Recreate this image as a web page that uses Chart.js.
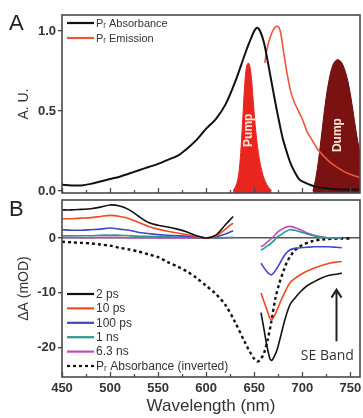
<!DOCTYPE html>
<html>
<head>
<meta charset="utf-8">
<script src="https://cdn.jsdelivr.net/npm/chart.js@4.4.1/dist/chart.umd.min.js"></script>
<style>
  body { margin: 0; background: #fff; width: 363px; height: 418px; overflow: hidden; position: relative; }
  canvas { position: absolute; left: 0; }
  #chartA { top: 0; }
  #chartB { top: 197px; }
</style>
</head>
<body>
<canvas id="chartA" width="363" height="197"></canvas>
<canvas id="chartB" width="363" height="221"></canvas>
<script>
// ---- Panel A data (normalised, A. U.) ----
const absWl  = [450, 460, 470, 480, 490, 500, 510, 520, 530, 540, 550, 560, 570, 580, 590, 600, 610, 620, 630, 640, 645, 650, 653, 656, 660, 664, 668, 672, 676, 680, 684, 688, 692, 696, 700, 710, 720, 740, 760];
const absVal = [0.04, 0.035, 0.035, 0.045, 0.06, 0.075, 0.09, 0.11, 0.13, 0.15, 0.17, 0.195, 0.22, 0.265, 0.32, 0.39, 0.45, 0.54, 0.68, 0.85, 0.93, 1.0, 1.02, 1.0, 0.93, 0.81, 0.68, 0.55, 0.43, 0.32, 0.24, 0.17, 0.12, 0.08, 0.06, 0.035, 0.02, 0.01, 0.01];

const emWl  = [661, 663, 666, 670, 674, 677, 680, 684, 688, 692, 696, 700, 705, 710, 716, 722, 729, 736, 744, 752, 760];
const emVal = [0.80, 0.88, 0.95, 1.01, 1.03, 1.0, 0.89, 0.74, 0.62, 0.55, 0.50, 0.45, 0.37, 0.32, 0.26, 0.22, 0.18, 0.15, 0.12, 0.10, 0.085];

const pumpWl  = [628, 632, 635, 638, 640, 642, 644, 646, 648, 650, 652, 655, 659, 663, 668];
const pumpVal = [0, 0.05, 0.17, 0.45, 0.66, 0.78, 0.80, 0.76, 0.64, 0.48, 0.35, 0.21, 0.10, 0.04, 0];

const dumpWl  = [711, 714, 717, 720, 724, 728, 732, 736, 740, 744, 748, 752, 756, 760, 764];
const dumpVal = [0, 0.08, 0.2, 0.35, 0.55, 0.70, 0.79, 0.82, 0.81, 0.76, 0.67, 0.53, 0.37, 0.24, 0.15];

const auTicks = [0, 0.5, 1.0];

// ---- Panel B data (mOD) ----
const visWl = [450, 460, 470, 480, 490, 500, 510, 520, 530, 540, 550, 560, 570, 580, 590, 600, 610, 620, 628];
const seWl  = [657, 660, 663, 666, 668, 671, 674, 678, 682, 687, 692, 698, 705, 712, 720, 728, 735, 741];

const vis2ps   = [5.1, 5.1, 5.2, 5.3, 5.6, 6.0, 5.8, 5.1, 3.9, 2.8, 2.3, 2.0, 1.6, 1.1, 0.4, 0.0, 0.5, 2.4, 3.9];
const vis10ps  = [3.5, 3.5, 3.6, 3.7, 3.9, 4.1, 3.9, 3.5, 2.8, 2.1, 1.6, 1.2, 0.9, 0.6, 0.2, 0.0, 0.3, 1.6, 2.7];
const vis100ps = [1.5, 1.4, 1.4, 1.5, 1.6, 1.8, 1.6, 1.4, 1.0, 0.8, 0.6, 0.5, 0.4, 0.3, 0.1, 0.0, 0.2, 0.7, 1.3];
const vis1ns   = [0.4, 0.4, 0.4, 0.4, 0.5, 0.5, 0.5, 0.4, 0.3, 0.3, 0.2, 0.2, 0.15, 0.1, 0.05, 0, 0, 0.05, 0.1];
const vis6ns   = [0.1, 0.1, 0.05, 0.05, 0.1, 0.1, 0.1, 0.05, 0.05, 0.05, 0, 0, 0, 0, 0, 0, -0.05, 0, 0.05];

const se2ps   = [-13.6, -16.5, -19.5, -21.8, -22.3, -21.5, -20.2, -17.5, -14.8, -12.2, -11.0, -9.8, -8.7, -8.0, -7.3, -6.8, -6.6, -6.4];
const se10ps  = [-10.0, -11.5, -13.0, -14.5, -14.9, -14.2, -13.0, -11.3, -9.8, -8.2, -7.4, -6.7, -6.0, -5.5, -5.0, -4.6, -4.4, -4.3];
const se100ps = [-4.6, -5.4, -6.1, -6.6, -6.7, -6.2, -5.4, -4.2, -3.0, -2.2, -1.9, -1.8, -1.7, -1.6, -1.6, -1.6, -1.7, -1.8];
const se1ns   = [-2.2, -1.9, -1.5, -1.2, -0.9, -0.4, 0.2, 0.6, 1.1, 1.5, 1.4, 1.1, 0.7, 0.4, 0.1, 0.0, 0.0, 0.0];
const se6ns   = [-1.6, -1.3, -0.8, -0.4, -0.1, 0.4, 1.0, 1.5, 1.9, 2.1, 1.9, 1.5, 0.9, 0.5, 0.2, 0.0, 0.0, 0.0];

const invWl  = [450, 460, 470, 480, 490, 500, 510, 520, 530, 540, 550, 560, 570, 580, 590, 600, 610, 620, 630, 640, 645, 650, 653, 656, 660, 664, 668, 672, 676, 680, 684, 688, 692, 696, 700, 710, 720, 740, 752];
const invVal = [-0.7, -0.8, -0.9, -1.0, -1.2, -1.4, -1.8, -2.1, -2.5, -3.0, -3.5, -4.4, -5.2, -6.1, -7.3, -8.7, -10.2, -12.2, -15.3, -18.9, -20.6, -22.0, -22.5, -22.2, -21.0, -18.5, -15.0, -11.0, -8.3, -6.2, -4.4, -3.2, -2.3, -1.7, -1.3, -0.6, -0.3, -0.1, -0.1];

const dATicks = [-20, -10, 0];
const wlTicks = [450, 500, 550, 600, 650, 700, 750];
const wlMinor = [475, 525, 575, 625, 675, 725];

const FONT = 'Liberation Sans, Arial, sans-serif';

function pts(xs, ys) {
    return xs.map((x, i) => ({ x: x, y: ys[i] }));
}
// visible part + gap + SE part
function split(vis, se) {
    return [...pts(visWl, vis), { x: 642, y: null }, ...pts(seWl, se)];
}

// frame box + inward ticks on the bottom axis
const framePlugin = {
    id: 'frame',
    afterDatasetsDraw(chart) {
        const { ctx, chartArea: a } = chart;
        const x = chart.scales.x;
        ctx.save();
        ctx.strokeStyle = '#4a4a4a';
        ctx.lineWidth = 1.6;
        ctx.strokeRect(a.left, a.top, a.right - a.left, a.bottom - a.top);
        ctx.lineWidth = 1.3;
        ctx.beginPath();
        wlTicks.forEach(v => {
            const px = Math.round(x.getPixelForValue(v)) + 0.5;
            ctx.moveTo(px, a.bottom); ctx.lineTo(px, a.bottom - 5);
        });
        wlMinor.forEach(v => {
            const px = Math.round(x.getPixelForValue(v)) + 0.5;
            ctx.moveTo(px, a.bottom); ctx.lineTo(px, a.bottom - 3);
        });
        ctx.stroke();
        ctx.restore();
    }
};

function drawLegend(ctx, datasets, x0, y0, dy, size) {
    ctx.save();
    ctx.font = size + 'px ' + FONT;
    ctx.textBaseline = 'middle';
    datasets.forEach((d, i) => {
        const y = y0 + i * dy;
        ctx.strokeStyle = d.borderColor;
        ctx.lineWidth = 2.2;
        ctx.setLineDash(d.borderDash || []);
        ctx.beginPath();
        ctx.moveTo(x0, y); ctx.lineTo(x0 + 27, y);
        ctx.stroke();
        ctx.fillStyle = '#333';
        ctx.fillText(d.label, x0 + 29, y + 0.5);
    });
    ctx.restore();
}

const annotA = {
    id: 'annotA',
    afterDraw(chart) {
        const { ctx } = chart;
        const x = chart.scales.x, y = chart.scales.y;
        ctx.save();
        ctx.fillStyle = '#222';
        ctx.font = '22px ' + FONT;
        ctx.fillText('A', 9, 30);
        // Pump / Dump labels
        ctx.font = 'bold 12px ' + FONT;
        ctx.fillStyle = '#fbe3d6';
        ctx.textAlign = 'center';
        ctx.textBaseline = 'middle';
        [['Pump', 644, 0.38], ['Dump', 737, 0.35]].forEach(([t, wl, v]) => {
            ctx.save();
            ctx.translate(x.getPixelForValue(wl), y.getPixelForValue(v));
            ctx.rotate(-Math.PI / 2);
            ctx.fillText(t, 0, 0);
            ctx.restore();
        });
        ctx.restore();
        drawLegend(ctx, chart.data.datasets.filter(d => d.inLegend), 67, 23, 15, 11);
    }
};

const annotB = {
    id: 'annotB',
    afterDraw(chart) {
        const { ctx } = chart;
        const x = chart.scales.x, y = chart.scales.y;
        ctx.save();
        ctx.fillStyle = '#222';
        ctx.font = '22px ' + FONT;
        ctx.fillText('B', 9, 19);
        // SE band arrow
        const ax = Math.round(x.getPixelForValue(735)) + 0.5;
        const yTop = y.getPixelForValue(-9.4), yBot = y.getPixelForValue(-18.8);
        ctx.strokeStyle = '#222';
        ctx.lineWidth = 2;
        ctx.beginPath();
        ctx.moveTo(ax, yBot); ctx.lineTo(ax, yTop);
        ctx.moveTo(ax - 5, yTop + 8); ctx.lineTo(ax, yTop); ctx.lineTo(ax + 5, yTop + 8);
        ctx.stroke();
        ctx.font = '14px "Open Sans", sans-serif';
        ctx.textAlign = 'center';
        ctx.textBaseline = 'middle';
        ctx.fillStyle = '#333';
        ctx.fillText('SE Band', x.getPixelForValue(726), y.getPixelForValue(-21.4));
        ctx.restore();
        drawLegend(ctx, chart.data.datasets, 67, 97, 14.4, 12);
    }
};

const tickFont = { family: FONT, size: 13, weight: 'bold' };

new Chart(document.getElementById('chartA'), {
    type: 'line',
    data: {
        datasets: [
            { label: 'Pᵣ Absorbance', data: pts(absWl, absVal), borderColor: '#111', borderWidth: 2, pointRadius: 0, tension: 0.3, fill: false, inLegend: true },
            { label: 'Pᵣ Emission', data: pts(emWl, emVal), borderColor: '#f0553a', borderWidth: 1.6, pointRadius: 0, tension: 0.3, fill: false, inLegend: true },
            { label: 'Pump', data: pts(pumpWl, pumpVal), borderColor: '#e8261f', backgroundColor: '#e8261f', borderWidth: 1, pointRadius: 0, tension: 0.35, fill: 'start' },
            { label: 'Dump', data: pts(dumpWl, dumpVal), borderColor: '#6e0c0c', backgroundColor: '#7a1212', borderWidth: 1, pointRadius: 0, tension: 0.35, fill: 'start' }
        ]
    },
    options: {
        responsive: false,
        animation: false,
        devicePixelRatio: 1,
        layout: { padding: { left: 0, right: 3, top: 15, bottom: 4 } },
        plugins: { legend: { display: false }, tooltip: { enabled: false } },
        scales: {
            x: { type: 'linear', min: 450, max: 760, display: false },
            y: {
                min: -0.012, max: 1.1,
                afterBuildTicks: s => { s.ticks = auTicks.map(v => ({ value: v })); },
                afterFit: s => { s.width = 62; s.paddingTop = 0; s.paddingBottom = 0; },
                ticks: { font: tickFont, color: '#333', padding: 2, callback: v => v.toFixed(1) },
                grid: { drawOnChartArea: false, tickLength: 4, color: '#444', lineWidth: 1.3 },
                border: { display: false },
                title: { display: true, text: 'A. U.', font: { family: FONT, size: 14 }, color: '#333', padding: { top: 16, bottom: 0 } }
            }
        }
    },
    plugins: [framePlugin, annotA]
});

new Chart(document.getElementById('chartB'), {
    type: 'line',
    data: {
        datasets: [
            { label: '2 ps', data: split(vis2ps, se2ps), borderColor: '#111' },
            { label: '10 ps', data: split(vis10ps, se10ps), borderColor: '#f04a22' },
            { label: '100 ps', data: split(vis100ps, se100ps), borderColor: '#4048c0' },
            { label: '1 ns', data: split(vis1ns, se1ns), borderColor: '#2a9c8c' },
            { label: '6.3 ns', data: split(vis6ns, se6ns), borderColor: '#c248c0' },
            { label: 'Pᵣ Absorbance (inverted)', data: pts(invWl, invVal), borderColor: '#111', borderDash: [3, 3], borderWidth: 2.4 }
        ].map(d => Object.assign({ borderWidth: 1.6, pointRadius: 0, tension: 0.3, fill: false }, d))
    },
    options: {
        responsive: false,
        animation: false,
        devicePixelRatio: 1,
        layout: { padding: { left: 0, right: 3, top: 3, bottom: 0 } },
        plugins: { legend: { display: false }, tooltip: { enabled: false } },
        scales: {
            x: {
                type: 'linear', min: 450, max: 760,
                afterBuildTicks: s => { s.ticks = wlTicks.map(v => ({ value: v })); },
                afterFit: s => { s.height = 41; s.paddingLeft = 0; s.paddingRight = 0; },
                ticks: { font: tickFont, color: '#333', padding: 4, maxRotation: 0 },
                grid: { display: false, drawTicks: false },
                border: { display: false },
                title: { display: true, text: 'Wavelength (nm)', font: { family: FONT, size: 17 }, color: '#333', padding: { top: 0, bottom: 1 } }
            },
            y: {
                min: -25.3, max: 6.9,
                afterBuildTicks: s => { s.ticks = dATicks.map(v => ({ value: v })); },
                afterFit: s => { s.width = 62; s.paddingTop = 0; s.paddingBottom = 0; },
                ticks: { font: tickFont, color: '#333', padding: 2 },
                grid: {
                    drawOnChartArea: true, tickLength: 4, lineWidth: 1.4, tickColor: '#444',
                    color: c => (c.tick && c.tick.value === 0) ? '#555' : 'rgba(0,0,0,0)'
                },
                border: { display: false },
                title: { display: true, text: 'ΔA (mOD)', font: { family: FONT, size: 14 }, color: '#333', padding: { top: 16, bottom: 0 } }
            }
        }
    },
    plugins: [framePlugin, annotB]
});
</script>
</body>
</html>
